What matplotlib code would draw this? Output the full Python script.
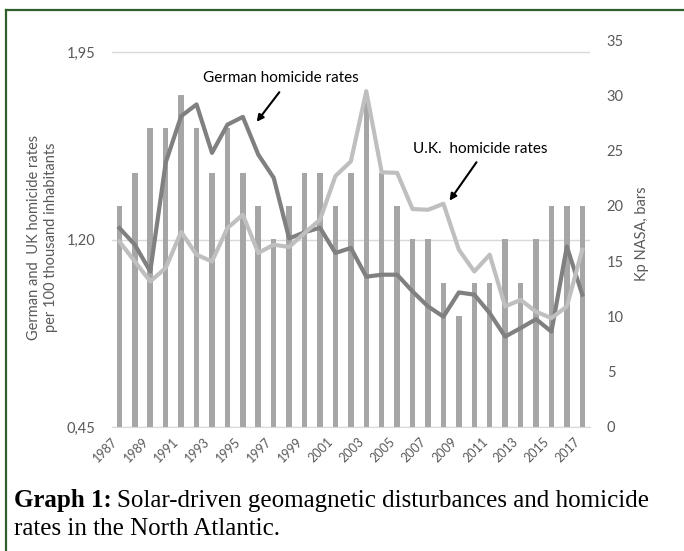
import numpy as np
import matplotlib
matplotlib.use('Agg')
import matplotlib.pyplot as plt
from matplotlib.lines import Line2D
from matplotlib.transforms import ScaledTranslation

# ------ data ------
years = list(range(1987, 2018))
kp_bars = [20, 23, 27, 27, 30, 27, 23, 27, 23, 20, 17, 20, 23, 23, 20, 23,
           30, 23, 20, 17, 17, 13, 10, 13, 13, 17, 13, 17, 20, 20, 20]
german = [1.247, 1.180, 1.073, 1.509, 1.695, 1.742, 1.548, 1.661, 1.692, 1.541,
          1.448, 1.205, 1.230, 1.248, 1.147, 1.167, 1.052, 1.060, 1.060, 0.993,
          0.933, 0.892, 0.989, 0.980, 0.906, 0.812, 0.846, 0.882, 0.832, 1.173,
          0.980]
uk = [1.193, 1.113, 1.033, 1.087, 1.231, 1.140, 1.113, 1.247, 1.300, 1.147,
      1.180, 1.171, 1.227, 1.280, 1.455, 1.514, 1.795, 1.470, 1.468, 1.323,
      1.320, 1.344, 1.160, 1.073, 1.140, 0.933, 0.959, 0.912, 0.886, 0.933,
      1.160]
left_ticks = [0.45, 1.20, 1.95]
right_ticks = [0, 5, 10, 15, 20, 25, 30, 35]

# ------ style ------
plt.rcParams['font.family'] = ['Lato', 'DejaVu Sans']
tick_col = '#595959'
x = np.arange(len(years))

fig = plt.figure(figsize=(6.84, 5.51), dpi=100)
rect = [111.7 / 684, 1 - 427 / 551, 478.3 / 684, 387 / 551]

# base axis: left scale + gridlines
ax = fig.add_axes(rect)
ax.set_xlim(-0.5, len(years) - 0.5)
ax.set_ylim(0.45, 2.0)
ax.set_yticks(left_ticks)
ax.set_yticklabels([f'{v:.2f}'.replace('.', ',') for v in left_ticks])
ax.yaxis.grid(True, color='#d9d9d9', lw=1)
ax.tick_params(axis='y', length=0, pad=12, labelsize=10.5, colors=tick_col)
for s in ['top', 'right', 'left']:
    ax.spines[s].set_visible(False)
ax.spines['bottom'].set_color('#d9d9d9')
ax.set_xticks(x[::2])
ax.set_xticklabels([str(y) for y in years[::2]], rotation=45, ha='right',
                   va='center', rotation_mode='anchor')
ax.tick_params(axis='x', length=0, pad=9, labelsize=9, colors=tick_col)
shift = ScaledTranslation(-4 / 100, 0, fig.dpi_scale_trans)
for lab in ax.get_xticklabels():
    lab.set_transform(lab.get_transform() + shift)
ax.set_ylabel('German and  UK homicide rates\nper 100 thousand inhabitants',
              color=tick_col, fontsize=10.5, linespacing=1.3)
ax.yaxis.set_label_coords(-0.112, 0.49)

# bars on the right scale
ax2 = ax.twinx()
ax2.bar(x, kp_bars, width=0.36, color='#a6a6a6')
ax2.set_ylim(0, 35)
ax2.set_yticks(right_ticks)
ax2.tick_params(axis='y', length=0, pad=12, labelsize=10.5, colors=tick_col)
for s in ax2.spines.values():
    s.set_visible(False)
ax2.set_ylabel('Kp NASA, bars', color=tick_col, fontsize=10.5)
ax2.yaxis.set_label_coords(1.094, 0.5)

# lines on top, same scale as the left axis
ax3 = ax.twinx()
ax3.set_ylim(0.45, 2.0)
ax3.set_yticks([])
for s in ax3.spines.values():
    s.set_visible(False)
ax3.plot(x, german, color='#808080', lw=3)
ax3.plot(x, uk, color='#bfbfbf', lw=3)

# annotations
arrow = dict(arrowstyle='-|>', color='black', lw=1.5, mutation_scale=10)
ax3.text(0.354, 0.903, 'German homicide rates', transform=ax3.transAxes,
         ha='center', va='center', fontsize=11, color='black')
ax3.annotate('', xy=(0.2996, 0.7829), xytext=(0.354, 0.8708),
             xycoords='axes fraction', textcoords='axes fraction', arrowprops=arrow)
ax3.text(0.770, 0.718, 'U.K.  homicide rates', transform=ax3.transAxes,
         ha='center', va='center', fontsize=11, color='black')
ax3.annotate('', xy=(0.703, 0.579), xytext=(0.766, 0.690),
             xycoords='axes fraction', textcoords='axes fraction', arrowprops=arrow)

# caption
cap_font = ['Liberation Serif', 'DejaVu Serif']
cap_size = 18
t1 = fig.text(14 / 684, 1 - 507 / 551, 'Graph 1:', fontsize=cap_size,
              family=cap_font, fontweight='bold', va='baseline')
renderer = fig.canvas.get_renderer()
x_end = t1.get_window_extent(renderer).x1 / fig.bbox.width
fig.text(x_end + 5 / 684, 1 - 507 / 551,
         'Solar-driven geomagnetic disturbances and homicide',
         fontsize=cap_size, family=cap_font, va='baseline')
fig.text(14 / 684, 1 - 535 / 551, 'rates in the North Atlantic.',
         fontsize=cap_size, family=cap_font, va='baseline')

# green frame
green = '#2f5f2a'
fig.add_artist(Line2D([6 / 684, 1], [1 - 10 / 551, 1 - 10 / 551], color=green, lw=1.6))
fig.add_artist(Line2D([6 / 684, 6 / 684], [0, 1 - 10 / 551], color=green, lw=1.6))

fig.savefig('out.png', dpi=100)
